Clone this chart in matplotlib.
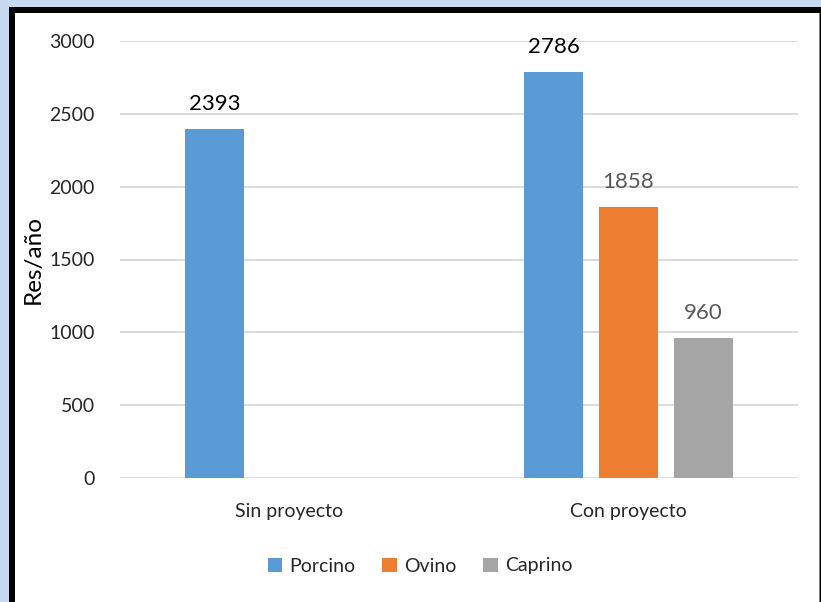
import matplotlib.pyplot as plt
import numpy as np
from matplotlib.patches import Rectangle

categories = ["Sin proyecto", "Con proyecto"]
series = ["Porcino", "Ovino", "Caprino"]
porcino = [2393, 2786]
ovino = [np.nan, 1858]
caprino = [np.nan, 960]
colors = ["#5B9BD5", "#ED7D31", "#A5A5A5"]
label_colors = ["#000000", "#595959", "#595959"]

plt.rcParams['font.family'] = ['Lato', 'DejaVu Sans']

W, H = 821, 602
fig = plt.figure(figsize=(W / 100, H / 100), dpi=100)
fig.patch.set_facecolor("#C6D9F1")

# frame: black border on left/top, white panel
fig.patches.append(Rectangle((9 / W, 0), (W - 9) / W, (H - 7) / H,
                             transform=fig.transFigure, facecolor="black",
                             edgecolor="none", zorder=-3))
fig.patches.append(Rectangle((15 / W, 0), (819 - 15) / W, (H - 13) / H,
                             transform=fig.transFigure, facecolor="white",
                             edgecolor="none", zorder=-2))
fig.patches.append(Rectangle((819 / W, 0), 1 / W, (H - 13) / H,
                             transform=fig.transFigure, facecolor="#7F7F7F",
                             edgecolor="none", zorder=-2))

ax = fig.add_axes([120 / W, (H - 478) / H, (798 - 120) / W, (478 - 41) / H])
ax.set_facecolor("none")

x = np.arange(len(categories))
width = 0.174
offset = 0.221
data = [porcino, ovino, caprino]
for i, (name, vals) in enumerate(zip(series, data)):
    pos = x + (i - 1) * offset
    ax.bar(pos, vals, width, color=colors[i], label=name, zorder=3)
    for p, v in zip(pos, vals):
        if not np.isnan(v):
            ax.text(p, v + 105, f"{int(v)}", ha="center", va="bottom",
                    fontsize=16, color=label_colors[i], zorder=4)

ax.set_xlim(-0.5, 1.5)
ax.set_ylim(0, 3000)
ax.set_yticks(np.arange(0, 3001, 500))
ax.set_xticks(x)
ax.set_xticklabels(categories)
ax.yaxis.grid(True, color="#D9D9D9", linewidth=1.3, zorder=0)
ax.set_axisbelow(True)
for s in ax.spines.values():
    s.set_visible(False)
ax.tick_params(axis="both", length=0, labelsize=14, labelcolor="#262626")
ax.tick_params(axis="y", pad=18)
ax.tick_params(axis="x", pad=18)
ax.set_ylabel("Res/año", fontsize=17.5, color="black", labelpad=4)

fig.legend(loc="center", bbox_to_anchor=(420 / W, (H - 566) / H), ncol=3,
           frameon=False, fontsize=14, handlelength=0.75, handleheight=0.75,
           handletextpad=0.35, columnspacing=1.4, labelcolor="#262626")

fig.savefig("out.png", dpi=100, facecolor=fig.get_facecolor())
